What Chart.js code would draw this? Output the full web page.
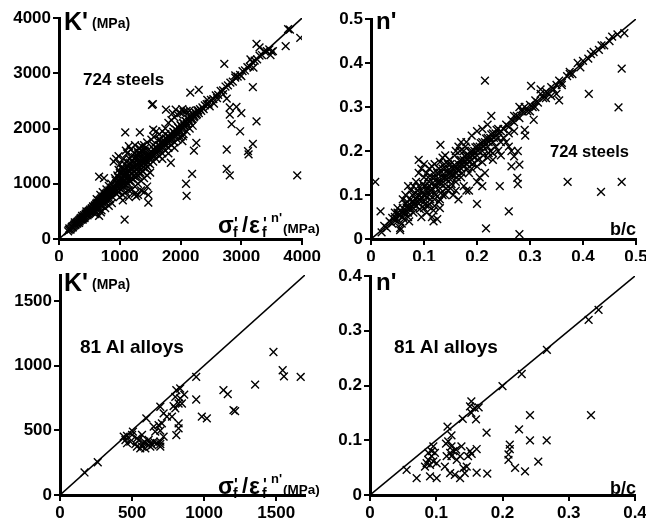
<!DOCTYPE html>
<html>
<head>
<meta charset="utf-8">
<script src="https://cdn.jsdelivr.net/npm/chart.js@4/dist/chart.umd.min.js"></script>
<style>
  html, body { margin: 0; padding: 0; background: #fff; overflow: hidden; }
  #wrap { position: relative; width: 646px; height: 522px; overflow: hidden; background: #fff; }
  canvas { position: absolute; }
  .t { position: absolute; font-family: 'Liberation Sans', Arial, sans-serif; font-weight: bold; color: #000; white-space: nowrap; line-height: 1; }
  .xl { position: absolute; width: 110px; height: 30px; }
  .xl span { position: absolute; font-family: 'Liberation Sans', Arial, sans-serif; font-weight: bold; line-height: 1; white-space: nowrap; }
</style>
</head>
<body>
<div id="wrap">
  <canvas id="c1" width="323" height="261" style="left:0;top:0"></canvas>
  <canvas id="c2" width="340" height="261" style="left:323px;top:0"></canvas>
  <canvas id="c3" width="323" height="261" style="left:0;top:261px"></canvas>
  <canvas id="c4" width="340" height="261" style="left:323px;top:261px"></canvas>

  <!-- top left -->
  <div class="t" style="left:64px;top:9px;font-size:25px">K'</div>
  <div class="t" style="left:92px;top:16px;font-size:14px">(MPa)</div>
  <div class="t" style="left:83px;top:71px;font-size:17px">724 steels</div>
  <div class="xl" style="left:218px;top:210px">
    <span style="left:0;top:4px;font-size:23px">σ</span>
    <span style="left:16px;top:6px;font-size:16px">'</span>
    <span style="left:15px;top:15px;font-size:14px">f</span>
    <span style="left:24px;top:4px;font-size:22px">/</span>
    <span style="left:31px;top:4px;font-size:23px">ε</span>
    <span style="left:45px;top:6px;font-size:16px">'</span>
    <span style="left:44px;top:15px;font-size:14px">f</span>
    <span style="left:53px;top:1px;font-size:13px">n'</span>
    <span style="left:65px;top:12px;font-size:13.5px">(MPa)</span>
  </div>

  <!-- top right -->
  <div class="t" style="left:376px;top:9px;font-size:24px">n'</div>
  <div class="t" style="left:550px;top:143px;font-size:16.5px">724 steels</div>
  <div class="t" style="left:610px;top:220px;font-size:18px">b/c</div>

  <!-- bottom left -->
  <div class="t" style="left:64px;top:270px;font-size:25px">K'</div>
  <div class="t" style="left:92px;top:277px;font-size:14px">(MPa)</div>
  <div class="t" style="left:80px;top:337px;font-size:19px">81 Al alloys</div>
  <div class="xl" style="left:218px;top:471px">
    <span style="left:0;top:4px;font-size:23px">σ</span>
    <span style="left:16px;top:6px;font-size:16px">'</span>
    <span style="left:15px;top:15px;font-size:14px">f</span>
    <span style="left:24px;top:4px;font-size:22px">/</span>
    <span style="left:31px;top:4px;font-size:23px">ε</span>
    <span style="left:45px;top:6px;font-size:16px">'</span>
    <span style="left:44px;top:15px;font-size:14px">f</span>
    <span style="left:53px;top:1px;font-size:13px">n'</span>
    <span style="left:65px;top:12px;font-size:13.5px">(MPa)</span>
  </div>

  <!-- bottom right -->
  <div class="t" style="left:376px;top:270px;font-size:24px">n'</div>
  <div class="t" style="left:394px;top:337px;font-size:19px">81 Al alloys</div>
  <div class="t" style="left:610px;top:479px;font-size:18px">b/c</div>
</div>

<script>
// tick labels
const steelKTicks = [0, 1000, 2000, 3000, 4000];
const steelNTicks = [0, 0.1, 0.2, 0.3, 0.4, 0.5];
const alKTicks = [0, 500, 1000, 1500];
const alNTicks = [0, 0.1, 0.2, 0.3, 0.4];

// axis ranges (the y = x line runs to the corner)
const steelKMax = 4000;
const steelNMax = 0.5;
const alKMax = 1700;
const alNMax = 0.4;

// 724 steels: [sigma'f / eps'f^n', K'] in MPa
const steelK = [
  [150,140],[170,190],[190,170],[210,220],[230,210],[250,260],[270,250],[290,300],[300,280],[320,330],
  [340,320],[350,370],[370,350],[390,400],[400,380],[410,430],[430,410],[440,460],[460,440],[470,490],
  [480,460],[490,510],[500,480],[260,300],[330,290],[380,420],[420,380],[450,500],[470,430],[390,350],
  [160,165],[185,180],[205,195],[225,235],[245,240],[265,270],[285,280],[305,315],[315,300],[335,345],
  [355,345],[365,380],[385,375],[405,400],[415,395],[435,440],[445,430],[455,465],[475,470],[495,495],
  [505,505],[525,515],[535,540],[545,535],[565,570],[575,580],[585,575],[595,600],[605,610],[615,600],
  [625,635],[635,625],[645,650],[655,660],[665,655],[675,680],[685,690],[695,700],[705,700],[715,720],
  [725,730],[735,740],[745,750],[755,760],[765,770],[775,780],[785,790],[795,800],[805,810],[815,830],
  [825,820],[835,850],[845,840],[855,870],[865,860],[875,880],[885,900],[895,890],
  [510,530],[520,490],[540,560],[550,520],[560,590],[570,540],[590,610],[600,570],[610,640],[620,590],
  [630,660],[640,610],[650,690],[660,630],[670,710],[680,650],[690,730],[700,670],[710,750],[720,690],
  [730,770],[740,710],[750,790],[760,730],[770,820],[780,750],[790,840],[800,770],[810,860],[820,790],
  [830,880],[840,810],[850,900],[860,830],[870,930],[880,850],[890,950],[900,870],
  [560,480],[600,500],[650,560],[700,600],[740,640],[800,680],[840,720],[880,760],[620,720],[680,800],
  [720,850],[780,900],[820,960],[860,1000],[600,450],[700,520],[760,560],[820,600],[870,650],[660,420],[690,480],
  [900,950],[920,900],[940,1000],[960,940],[980,1050],[1000,980],[1020,1100],[1040,1020],[1060,1150],[1080,1060],
  [1100,1200],[1120,1100],[1140,1250],[1160,1140],[1180,1280],[1200,1180],[1220,1300],[1240,1220],[1260,1330],[1280,1260],
  [1300,1380],[1320,1300],[1340,1420],[1360,1340],[1380,1450],[1400,1380],[1420,1480],[1440,1420],[1460,1520],[1480,1460],[1500,1550],
  [910,930],[930,960],[950,1010],[970,1000],[990,1060],[1010,1040],[1030,1080],[1050,1090],[1070,1130],[1090,1150],
  [1110,1170],[1130,1180],[1150,1220],[1170,1230],[1190,1260],[1210,1260],[1230,1290],[1250,1310],[1270,1320],[1290,1350],
  [1310,1370],[1330,1380],[1350,1410],[1370,1430],[1390,1440],[1410,1450],[1430,1470],[1450,1480],[1470,1500],[1490,1530],
  [930,1060],[970,1120],[1010,1180],[1050,1200],[1090,1260],[1130,1320],[1170,1380],[1210,1420],[1250,1480],[1290,1520],
  [1330,1560],[1370,1580],[1410,1600],
  [950,880],[990,920],[1030,960],[1070,1000],[1110,1040],[1150,1060],[1190,1100],[1230,1140],[1270,1180],[1310,1220],
  [1350,1260],[1390,1300],[1430,1340],[1470,1380],
  [920,1100],[960,1150],[1000,1200],[1040,1280],[1080,1350],[1120,1400],[1160,1450],[1200,1500],[1240,1550],[1280,1600],
  [1320,1650],[1360,1680],[1400,1700],[1000,1350],[1060,1450],[1120,1550],[1180,1620],[1250,1700],[1150,1680],[1100,1600],
  [1300,1550],[1350,1600],[1420,1650],[1450,1750],[1050,1250],[1150,1350],[1250,1450],[1350,1500],[980,1250],[1200,1400],[1300,1450],
  [940,820],[980,850],[1020,900],[1060,950],[1100,980],[1140,1000],[1180,1050],[1220,1080],[1260,1120],[1300,1150],
  [1340,1200],[1380,1220],[1420,1280],[1460,1300],[1500,1350],[1000,760],[1050,800],[1100,850],[1150,880],[1200,900],
  [1250,950],[1300,1000],[1350,1050],[1400,1100],[1450,1150],[1500,1200],[1050,700],[1150,760],[1250,820],[1350,880],
  [1450,950],[1400,850],[1300,800],
  [1520,1580],[1540,1500],[1560,1620],[1580,1540],[1600,1660],[1620,1580],[1640,1700],[1660,1620],[1680,1740],[1700,1660],
  [1720,1780],[1740,1700],[1760,1820],[1780,1740],[1800,1860],[1820,1780],[1840,1900],[1860,1820],[1880,1940],[1900,1860],
  [1920,1980],[1940,1900],[1960,2020],[1980,1940],[2000,2060],[2020,1990],[2040,2100],[2060,2040],[2080,2140],[2100,2080],
  [2120,2180],[2140,2120],[2160,2220],[2180,2160],[2200,2260],[2220,2200],[2240,2290],[2260,2240],[2280,2320],[2300,2280],
  [2320,2350],[2340,2320],[2360,2380],[2380,2350],[2400,2420],
  [1510,1490],[1530,1560],[1550,1530],[1570,1610],[1590,1570],[1610,1650],[1630,1600],[1650,1690],[1670,1640],[1690,1730],
  [1710,1680],[1730,1770],[1750,1720],[1770,1810],[1790,1760],[1810,1850],[1830,1800],[1850,1890],[1870,1840],[1890,1930],
  [1910,1880],[1930,1970],[1950,1920],[1970,2010],[1990,1960],[2010,2050],[2030,2010],[2050,2090],[2070,2050],[2090,2130],
  [2110,2090],[2130,2170],[2150,2130],[2170,2210],[2190,2180],[2210,2250],[2230,2220],[2250,2280],[2270,2260],[2290,2330],
  [1520,1800],[1560,1850],[1600,1950],[1650,1900],[1700,1950],[1750,2000],[1800,2100],[1850,2150],[1900,2200],[1950,2250],
  [2000,2280],[2050,2300],[2100,2320],[2150,2330],[1550,1400],[1600,1450],[1650,1500],[1700,1550],[1750,1600],[1800,1650],
  [1850,1700],[1900,1750],[1950,1800],[2000,1850],[2050,1900],[2100,1950],[2150,2000],[2200,2050],[1700,1450],[1800,1550],
  [1900,1650],[1550,1700],[1650,1800],[1750,1900],
  [2430,2440],[2460,2450],[2500,2520],[2540,2530],[2580,2600],[2620,2610],[2660,2680],[2700,2690],[2740,2760],[2780,2780],
  [2820,2830],[2860,2850],[2900,2920],[2940,2940],[2980,2970],[3020,3040],[3060,3050],[3100,3110],[3140,3120],[3180,3200],
  [3220,3230],[3260,3250],[3300,3320],[3340,3330],[3380,3400],[3420,3400],[3460,3430],[3500,3390],[3480,3330],[3520,3400],
  [3800,3790],[3770,3800],[2600,2550],[2700,2620],[2900,2960],[3000,2950],[3200,3100],[3150,3250],[2550,2450],[2480,2400],
  [3970,3640],[3730,3490],[3250,3530],[3300,3470],[2720,3170],[3190,2750],[2160,2650],[2300,2700],[1530,2430],[1545,2440],
  [2760,2540],[2810,2380],[2920,2390],[2810,2250],[3000,2280],[2840,2080],[2980,1950],[3250,2130],[2760,1620],[3190,1720],
  [3110,1590],[3120,1530],[2760,1270],[2810,1150],[3920,1150],[2190,1180],[2090,1000],[2100,780],[2260,1740],[2220,1600],
  [2030,1770],[2040,1860],[1840,1380],[1470,660],[1470,800],[1080,350],[1270,770],[1090,1930],[1330,1930],[940,1450],
  [980,1500],[900,1400],[660,1130],[740,1100],[1760,2340],[1870,2280],[1920,2340],[2030,2350],[2440,2520],[1660,1800],[1550,1980]
];

// 724 steels: [b/c, n']
const steelN = [
  [0.02,0.015],[0.025,0.03],[0.03,0.025],[0.035,0.04],[0.04,0.035],[0.045,0.05],[0.05,0.04],[0.05,0.06],[0.055,0.055],[0.06,0.07],
  [0.06,0.05],[0.065,0.06],[0.065,0.08],[0.07,0.075],[0.07,0.06],[0.075,0.09],[0.075,0.07],[0.08,0.085],[0.08,0.07],[0.055,0.025],
  [0.055,0.02],[0.05,0.07],[0.06,0.09],[0.065,0.1],[0.07,0.12],[0.075,0.11],[0.045,0.06],[0.07,0.05],[0.08,0.06],
  [0.04,0.048],[0.046,0.042],[0.052,0.055],[0.058,0.062],[0.062,0.058],[0.067,0.072],[0.072,0.068],[0.077,0.085],[0.082,0.078],[0.087,0.095],
  [0.092,0.088],[0.097,0.105],[0.102,0.098],[0.107,0.118],[0.112,0.108],[0.117,0.128],[0.122,0.118],[0.127,0.138],[0.132,0.125],[0.137,0.148],
  [0.142,0.135],[0.147,0.158],[0.152,0.145],[0.157,0.168],[0.162,0.158],[0.167,0.178],[0.172,0.168],[0.177,0.188],[0.182,0.18],[0.187,0.198],
  [0.192,0.19],[0.197,0.208],[0.202,0.2],[0.207,0.218],[0.212,0.21],[0.217,0.228],[0.222,0.22],[0.227,0.238],[0.232,0.23],[0.237,0.248],[0.242,0.24],
  [0.088,0.11],[0.098,0.125],[0.108,0.14],[0.118,0.15],[0.128,0.16],[0.138,0.17],[0.148,0.18],[0.158,0.19],[0.168,0.2],[0.178,0.21],
  [0.092,0.068],[0.102,0.078],[0.112,0.09],[0.122,0.1],[0.132,0.105],[0.142,0.115],[0.152,0.125],[0.162,0.14],[0.172,0.15],[0.182,0.16],
  [0.192,0.17],[0.202,0.18],[0.212,0.19],[0.222,0.195],[0.078,0.1],[0.083,0.105],[0.105,0.15],[0.115,0.165],[0.135,0.185],[0.108,0.075],
  [0.118,0.065],[0.128,0.085],[0.068,0.085],[0.062,0.045],[0.058,0.035],
  [0.085,0.09],[0.085,0.075],[0.09,0.1],[0.09,0.08],[0.09,0.12],[0.095,0.095],[0.095,0.11],[0.1,0.1],[0.1,0.085],[0.1,0.12],
  [0.1,0.14],[0.105,0.11],[0.105,0.095],[0.11,0.12],[0.11,0.1],[0.11,0.13],[0.115,0.115],[0.115,0.14],[0.12,0.12],[0.12,0.105],
  [0.12,0.14],[0.125,0.13],[0.125,0.15],[0.13,0.13],[0.13,0.115],[0.13,0.15],[0.135,0.14],[0.135,0.16],[0.14,0.14],[0.14,0.125],
  [0.14,0.16],[0.145,0.15],[0.145,0.17],[0.15,0.15],[0.15,0.135],[0.15,0.17],
  [0.09,0.18],[0.1,0.17],[0.095,0.16],[0.085,0.13],[0.08,0.12],[0.09,0.15],[0.11,0.16],[0.12,0.17],[0.13,0.175],[0.14,0.19],
  [0.095,0.05],[0.1,0.07],[0.105,0.06],[0.11,0.08],[0.115,0.05],[0.12,0.09],[0.125,0.045],[0.13,0.09],[0.135,0.1],[0.14,0.1],
  [0.145,0.11],[0.15,0.115],[0.12,0.075],[0.13,0.07],
  [0.155,0.16],[0.155,0.145],[0.16,0.165],[0.16,0.15],[0.165,0.17],[0.165,0.155],[0.17,0.18],[0.17,0.16],[0.175,0.18],[0.175,0.165],
  [0.18,0.19],[0.18,0.17],[0.185,0.19],[0.185,0.175],[0.19,0.2],[0.19,0.18],[0.195,0.2],[0.195,0.185],[0.2,0.21],[0.2,0.19],
  [0.205,0.21],[0.21,0.22],[0.21,0.2],[0.215,0.22],[0.22,0.23],[0.22,0.21],[0.225,0.23],[0.23,0.24],[0.23,0.22],[0.235,0.24],
  [0.24,0.25],[0.24,0.23],[0.245,0.245],[0.25,0.25],
  [0.16,0.2],[0.165,0.21],[0.17,0.22],[0.175,0.2],[0.18,0.22],[0.19,0.235],[0.2,0.245],[0.21,0.25],[0.22,0.26],[0.16,0.13],
  [0.17,0.14],[0.175,0.12],[0.18,0.11],[0.185,0.15],[0.19,0.16],[0.2,0.165],[0.205,0.14],[0.21,0.175],[0.215,0.15],[0.22,0.185],
  [0.225,0.2],[0.23,0.195],[0.235,0.21],[0.24,0.2],[0.245,0.22],[0.2,0.13],[0.21,0.12],[0.155,0.1],[0.165,0.09],[0.16,0.11],
  [0.23,0.18],[0.245,0.19],
  [0.255,0.26],[0.26,0.255],[0.265,0.27],[0.27,0.265],[0.275,0.28],[0.28,0.275],[0.285,0.29],[0.29,0.3],[0.295,0.29],[0.3,0.305],
  [0.305,0.3],[0.31,0.315],[0.315,0.31],[0.32,0.33],[0.325,0.32],[0.33,0.335],[0.335,0.33],[0.34,0.345],[0.345,0.34],[0.35,0.35],
  [0.355,0.36],[0.36,0.355],[0.37,0.37],[0.375,0.38],[0.38,0.375],[0.39,0.4],[0.395,0.39],[0.4,0.405],[0.41,0.41],[0.415,0.42],
  [0.42,0.425],[0.43,0.43],[0.435,0.44],[0.44,0.44],[0.45,0.45],[0.455,0.46],[0.465,0.465],[0.33,0.32],[0.34,0.325],[0.35,0.33],
  [0.355,0.315],[0.32,0.34],[0.31,0.3],[0.3,0.29],[0.28,0.3],[0.27,0.28],[0.26,0.24],[0.25,0.23],[0.255,0.22],[0.26,0.21],
  [0.265,0.2],[0.27,0.245],[0.285,0.295],[0.36,0.35],[0.375,0.375],
  [0.008,0.13],[0.018,0.063],[0.215,0.36],[0.2,0.08],[0.217,0.024],[0.243,0.12],[0.26,0.063],[0.28,0.011],[0.276,0.139],[0.277,0.125],
  [0.28,0.169],[0.277,0.2],[0.27,0.188],[0.265,0.165],[0.29,0.248],[0.291,0.235],[0.307,0.271],[0.302,0.348],[0.371,0.13],[0.434,0.107],
  [0.473,0.13],[0.411,0.33],[0.467,0.299],[0.473,0.387],[0.478,0.468],[0.131,0.214],[0.227,0.28],[0.185,0.11],[0.072,0.04],[0.118,0.04]
];

// 81 Al alloys: [sigma'f / eps'f^n', K'] in MPa
const alK = [
  [170,174],[262,253],[945,912],[1481,1105],[1545,964],[1554,917],[1670,912],[1354,853],[1134,810],[1164,779],
  [1204,656],[1215,648],[945,738],[984,605],[1019,592],[807,810],[834,823],[862,776],[800,758],[823,707],
  [846,707],[800,669],[788,687],[696,682],[719,630],[777,605],[823,553],[823,515],[807,463],[599,592],
  [650,528],[684,540],[696,497],[661,489],[719,451],[696,412],[696,374],[673,400],[627,400],[585,412],
  [569,374],[557,360],[534,438],[500,464],[465,456],[454,425],[488,412],[465,400],[523,394],[546,425],
  [603,394],[627,374],[650,412],[592,361],[696,394],[442,451],[506,489],[534,374],[615,425],[569,464],
  [742,605],[707,553],[834,746],[580,400],[640,385]
];

// 81 Al alloys: [b/c, n']
const alN = [
  [0.345,0.338],[0.330,0.320],[0.267,0.265],[0.229,0.221],[0.200,0.199],[0.153,0.171],[0.151,0.162],[0.158,0.159],[0.164,0.160],[0.153,0.150],
  [0.160,0.138],[0.140,0.139],[0.2415,0.146],[0.3336,0.146],[0.117,0.125],[0.176,0.114],[0.225,0.120],[0.2415,0.0997],[0.2667,0.0997],[0.211,0.092],
  [0.211,0.084],[0.209,0.074],[0.209,0.0643],[0.254,0.061],[0.219,0.0494],[0.234,0.043],[0.123,0.109],[0.118,0.098],[0.1147,0.094],[0.123,0.089],
  [0.121,0.077],[0.123,0.071],[0.130,0.083],[0.136,0.071],[0.151,0.080],[0.1535,0.075],[0.161,0.084],[0.148,0.071],[0.0956,0.089],[0.098,0.077],
  [0.093,0.071],[0.088,0.064],[0.0956,0.0616],[0.0855,0.058],[0.0906,0.055],[0.1006,0.058],[0.083,0.052],[0.113,0.052],[0.121,0.040],[0.128,0.037],
  [0.136,0.031],[0.141,0.049],[0.143,0.040],[0.146,0.052],[0.161,0.041],[0.177,0.039],[0.0553,0.046],[0.0704,0.031],[0.0906,0.034],[0.1006,0.031],
  [0.138,0.089],[0.126,0.080],[0.088,0.077],[0.1157,0.071],[0.131,0.064],[0.093,0.080]
];

Chart.defaults.font.family = "'Liberation Sans', Arial, sans-serif";
Chart.defaults.color = "#000";

function axis(tickValues, fit) {
  return {
    type: "linear",
    min: 0,
    max: tickValues.max,
    afterBuildTicks: (s) => { s.ticks = tickValues.list.map((v) => ({ value: v })); },
    afterFit: fit,
    ticks: {
      font: { size: 17, weight: "bold" },
      color: "#000",
      padding: 2,
      autoSkip: false,
      maxRotation: 0,
      callback: (v) => String(v),
    },
    grid: { drawOnChartArea: false, drawTicks: true, tickLength: 6, color: "#000", lineWidth: 2 },
    border: { display: true, color: "#000", width: 3 },
  };
}

function makePanel(id, pts, ticks, max, box) {
  const ctx = document.getElementById(id);
  return new Chart(ctx, {
    type: "scatter",
    data: {
      datasets: [
        {
          data: pts.map((p) => ({ x: p[0], y: p[1] })),
          pointStyle: "crossRot",
          pointRadius: 5.5,
          borderColor: "#000",
          backgroundColor: "#000",
          borderWidth: 1.4,
        },
        {
          type: "line",
          data: [{ x: 0, y: 0 }, { x: max, y: max }],
          borderColor: "#000",
          borderWidth: 1.6,
          pointRadius: 0,
          fill: false,
        },
      ],
    },
    options: {
      responsive: false,
      animation: false,
      events: [],
      layout: { padding: { left: 0, top: box.top, right: box.right, bottom: 0 } },
      plugins: { legend: { display: false }, tooltip: { enabled: false } },
      scales: {
        x: axis({ list: ticks, max: max }, (s) => { s.height = box.xh; }),
        y: axis({ list: ticks, max: max }, (s) => { s.width = box.yw; }),
      },
    },
  });
}

makePanel("c1", steelK, steelKTicks, steelKMax, { top: 18, right: 17, xh: 22, yw: 59 });
makePanel("c2", steelN, steelNTicks, steelNMax, { top: 19, right: 27, xh: 22, yw: 48 });
makePanel("c3", alK, alKTicks, alKMax, { top: 14, right: 18, xh: 27, yw: 60 });
makePanel("c4", alN, alNTicks, alNMax, { top: 15, right: 28, xh: 27, yw: 47 });
</script>
</body>
</html>
